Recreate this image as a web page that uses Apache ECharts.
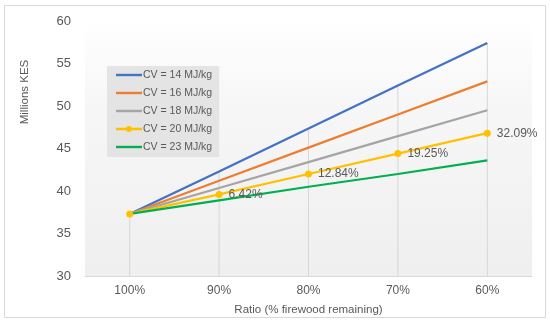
<!DOCTYPE html>
<html><head><meta charset="utf-8">
<script src="https://cdn.jsdelivr.net/npm/echarts@6/dist/echarts.min.js"></script>
<style>html,body{margin:0;padding:0;background:#fff}#c{width:550px;height:324px}</style>
</head><body><div id="c"></div>
<script>
var categories = ["100%", "90%", "80%", "70%", "60%"];
var cv14 = [37.3, 42.3, 47.35, 52.4, 57.4];
var cv16 = [37.3, 41.2, 45.1, 49.0, 52.9];
var cv18 = [37.3, 40.35, 43.4, 46.45, 49.5];
var cv20 = [37.3, 39.6, 42.0, 44.4, 46.8];
var cv23 = [37.3, 38.9, 40.5, 42.0, 43.6];
var cv20Labels = ["", "6.42%", "12.84%", "19.25%", "32.09%"];
var seriesNames = ["CV = 14 MJ/kg", "CV = 16 MJ/kg", "CV = 18 MJ/kg", "CV = 20 MJ/kg", "CV = 23 MJ/kg"];
var yTicks = {min: 30, max: 60, interval: 5};

var font = "Liberation Sans, Arial, sans-serif";
var txt = "#595959";
var lineIcon = 'path://M0,0L26,0L26,2.4L0,2.4Z';
var dotIcon = 'path://M0,2.3L26,2.3L26,4.7L0,4.7Z M16,3.5A3,3 0 1,1 10,3.5A3,3 0 1,1 16,3.5Z';
var chart = echarts.init(document.getElementById('c'));
function lineSeries(name, data, color) {
  return {name: name, type: 'line', data: data, symbol: 'none', z: 3,
    lineStyle: {color: color, width: 2.25}, itemStyle: {color: color}};
}
chart.setOption({
  animation: false,
  textStyle: {fontFamily: font},
  graphic: [
    {type: 'rect', shape: {x: 4.5, y: 5.5, width: 541, height: 312}, style: {fill: 'none', stroke: '#d9d9d9', lineWidth: 1}, z: -10},
    {type: 'text', x: 25, y: 92, rotation: Math.PI / 2, style: {text: 'Millions KES', fill: txt, font: '11.5px ' + font, textAlign: 'center', textVerticalAlign: 'middle'}}
  ],
  grid: {left: 85, right: 18, top: 21, bottom: 48, show: true, borderWidth: 0,
    backgroundColor: {type: 'linear', x: 0, y: 0, x2: 0, y2: 1, colorStops: [{offset: 0, color: '#ffffff'}, {offset: 0.3, color: '#f7f7f7'}, {offset: 1, color: '#efefef'}]}},
  legend: {orient: 'vertical', left: 107, top: 66, backgroundColor: '#e4e4e4', padding: [2, 7, 3, 9],
    itemWidth: 26, itemHeight: 14, itemGap: 4, symbolKeepAspect: true,
    textStyle: {color: txt, fontSize: 10.5, lineHeight: 14, fontFamily: font, padding: [0, 0, 0, -4]},
    data: [
      {name: seriesNames[0], icon: lineIcon},
      {name: seriesNames[1], icon: lineIcon},
      {name: seriesNames[2], icon: lineIcon},
      {name: seriesNames[3], icon: dotIcon},
      {name: seriesNames[4], icon: lineIcon}
    ]},
  xAxis: {type: 'category', data: categories, boundaryGap: true,
    name: 'Ratio (% firewood remaining)', nameLocation: 'middle', nameGap: 28,
    nameTextStyle: {color: txt, fontSize: 11.5, fontFamily: font},
    axisLine: {lineStyle: {color: '#d9d9d9'}}, axisTick: {show: false},
    axisLabel: {color: txt, fontSize: 12, margin: 9}},
  yAxis: {type: 'value', min: yTicks.min, max: yTicks.max, interval: yTicks.interval,
    axisLine: {show: false}, axisTick: {show: false}, splitLine: {show: false},
    axisLabel: {color: txt, fontSize: 13, margin: 14}},
  series: [
    {name: 'drop', type: 'bar', data: cv14, barWidth: 1, barGap: '-100%', z: 1, silent: true,
      itemStyle: {color: '#d6d6d6'}, legendHoverLink: false},
    lineSeries(seriesNames[0], cv14, '#4472C4'),
    lineSeries(seriesNames[1], cv16, '#ED7D31'),
    lineSeries(seriesNames[2], cv18, '#A5A5A5'),
    {name: seriesNames[3], type: 'line', data: cv20, symbol: 'circle', symbolSize: 7, z: 3,
      lineStyle: {color: '#FFC000', width: 2.25}, itemStyle: {color: '#FFC000'},
      label: {show: true, position: 'right', distance: 6, color: txt, fontSize: 12, fontFamily: font,
        formatter: function (p) { return cv20Labels[p.dataIndex]; }}},
    lineSeries(seriesNames[4], cv23, '#00B050')
  ]
});
</script></body></html>
